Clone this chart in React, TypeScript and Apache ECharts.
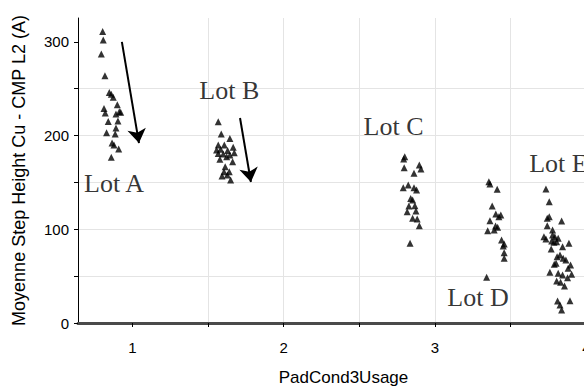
import React, { useEffect, useRef } from "react";
import * as echarts from "echarts";

const lotA: [number, number][] = [
  [0.803, 311], [0.807, 302], [0.794, 287], [0.818, 264], [0.847, 246], [0.86, 244],
  [0.873, 241], [0.9, 233], [0.812, 229], [0.82, 224], [0.913, 225.5], [0.891, 223],
  [0.922, 225], [0.84, 215], [0.904, 215.6], [0.891, 208], [0.829, 203], [0.886, 201.6],
  [0.865, 192], [0.878, 190], [0.909, 185.7], [0.86, 177],
];
const lotB: [number, number][] = [
  [1.567, 214.8], [1.587, 201.7], [1.644, 197], [1.567, 190], [1.607, 190], [1.666, 187.5],
  [1.556, 184.6], [1.583, 185.4], [1.629, 184], [1.673, 181.7], [1.567, 181], [1.6, 180.4],
  [1.644, 179.3], [1.623, 177.5], [1.578, 174.7], [1.662, 172], [1.613, 166.8], [1.605, 161.5],
  [1.64, 161.5], [1.592, 157], [1.627, 158], [1.649, 152.6],
];
const lotC: [number, number][] = [
  [2.8, 177.5], [2.793, 175], [2.896, 168.6], [2.796, 165.7], [2.907, 164.4], [2.861, 159.8],
  [2.79, 144.4], [2.823, 147.3], [2.861, 144.4], [2.878, 141.9], [2.839, 133], [2.852, 131.3],
  [2.827, 124.9], [2.867, 125.2], [2.816, 118.8], [2.874, 119.5], [2.852, 111.7], [2.882, 111],
  [2.896, 103.8], [2.835, 85],
];
const lotD: [number, number][] = [
  [3.356, 150.8], [3.363, 148.3], [3.411, 142.7], [3.378, 124.9], [3.402, 116.3], [3.435, 115.3],
  [3.422, 113.4], [3.363, 109.2], [3.4, 103.5], [3.414, 102.1], [3.348, 98.5], [3.391, 99.3],
  [3.44, 88.6], [3.457, 84.3], [3.451, 82.2], [3.457, 75], [3.457, 69], [3.341, 48.8],
];
const lotE: [number, number][] = [
  [3.733, 143], [3.755, 129.5], [3.755, 113.4], [3.742, 111.7], [3.837, 108.9], [3.742, 103.8],
  [3.777, 99.3], [3.72, 92.1], [3.733, 89.6], [3.777, 93.9], [3.792, 92.1], [3.814, 90.4],
  [3.771, 87.5], [3.786, 86.1], [3.804, 86.8], [3.885, 85.1], [3.843, 81.4], [3.768, 79],
  [3.826, 72.6], [3.807, 70.8], [3.847, 69], [3.865, 67.2], [3.8, 63.7], [3.788, 62.6],
  [3.896, 61.9], [3.88, 58.4], [3.759, 54.1], [3.814, 53], [3.843, 51.2], [3.903, 52],
  [3.876, 48.3], [3.804, 44.8], [3.83, 43.4], [3.856, 39.5], [3.81, 23.5], [3.892, 23.8],
  [3.826, 19.2], [3.837, 13.9],
];

const lotNames = ["Lot A", "Lot B", "Lot C", "Lot D", "Lot E"];
const lotLabelPos: [number, number][] = [
  [0.878, 149.4], [1.64, 247.6], [2.726, 209.2], [3.284, 27.7], [3.816, 169.7],
];
const arrows: [number, number][][] = [
  [[0.93, 300], [1.043, 192]],
  [[1.711, 218.8], [1.783, 150.5]],
];

const xTicks = [1, 1.5, 2, 2.5, 3, 3.5, 4];
const xLabels = [1, 2, 3, 4];
const yTicks = [0, 50, 100, 150, 200, 250, 300];
const yLabels = [0, 100, 200, 300];

const SANS = "Arial, 'Liberation Sans', sans-serif";
const SERIF = "'Times New Roman', 'Liberation Serif', serif";

export default function App() {
  const ref = useRef<HTMLDivElement>(null);
  useEffect(() => {
    if (!ref.current) return;
    const chart = echarts.init(ref.current, undefined, { renderer: "svg" });
    const allPoints = [...lotA, ...lotB, ...lotC, ...lotD, ...lotE];
    chart.setOption({
      animation: false,
      backgroundColor: "#fff",
      grid: { left: 78, right: 0, top: 18, bottom: 63, containLabel: false, outerBoundsMode: "none" },
      xAxis: {
        type: "value",
        min: 0.64,
        max: 4.15,
        minInterval: 0.5,
        maxInterval: 0.5,
        name: "PadCond3Usage",
        nameLocation: "middle",
        nameGap: 46,
        nameTextStyle: { fontFamily: SANS, fontSize: 17, color: "#000" },
        axisLine: { show: true, onZero: false, lineStyle: { color: "#4a4a4a", width: 3 } },
        axisTick: { show: true, length: 4, customValues: xTicks, lineStyle: { color: "#000", width: 1 } },
        axisLabel: {
          customValues: xLabels,
          margin: 17,
          fontFamily: SANS,
          fontSize: 15,
          color: "#000",
          formatter: (v: number) => (Number.isInteger(v) ? String(v) : ""),
        },
        splitLine: { show: true, showMinLine: false, showMaxLine: false, lineStyle: { color: "#e4e4e4", width: 1 } },
      },
      yAxis: {
        type: "value",
        min: 0,
        max: 325.5,
        minInterval: 50,
        maxInterval: 50,
        name: "Moyenne Step Height Cu - CMP L2 (A)",
        nameLocation: "middle",
        nameGap: 50,
        nameTextStyle: { fontFamily: SANS, fontSize: 18, color: "#000" },
        axisLine: { show: true, lineStyle: { color: "#000", width: 1 } },
        axisTick: { show: true, length: 4, customValues: yTicks, lineStyle: { color: "#000", width: 1 } },
        axisLabel: {
          customValues: yLabels,
          margin: 9,
          fontFamily: SANS,
          fontSize: 15,
          color: "#000",
          formatter: (v: number) => (v % 100 === 0 ? String(v) : ""),
        },
        splitLine: { show: true, showMinLine: false, showMaxLine: false, lineStyle: { color: "#e4e4e4", width: 1 } },
      },
      series: [
        {
          type: "scatter",
          name: "points",
          symbol: "triangle",
          symbolSize: 7,
          itemStyle: { color: "#000" },
          data: allPoints,
          silent: true,
        },
        {
          type: "lines",
          coordinateSystem: "cartesian2d",
          polyline: false,
          symbol: ["none", "arrow"],
          symbolSize: [11, 14],
          lineStyle: { color: "#000", width: 2, opacity: 1 },
          data: arrows.map((c) => ({ coords: c })),
          silent: true,
        },
        {
          type: "scatter",
          name: "labels",
          symbolSize: 1,
          itemStyle: { color: "rgba(0,0,0,0)" },
          data: lotNames.map((n, i) => ({ name: n, value: lotLabelPos[i] })),
          label: {
            show: true,
            position: "inside",
            formatter: (p: any) => p.name,
            fontFamily: SERIF,
            fontSize: 26,
            color: "#000",
          },
          silent: true,
        },
      ],
    });
    return () => chart.dispose();
  }, []);
  return <div ref={ref} style={{ position: "fixed", left: 0, top: 0, width: 609, height: 386 }} />;
}
